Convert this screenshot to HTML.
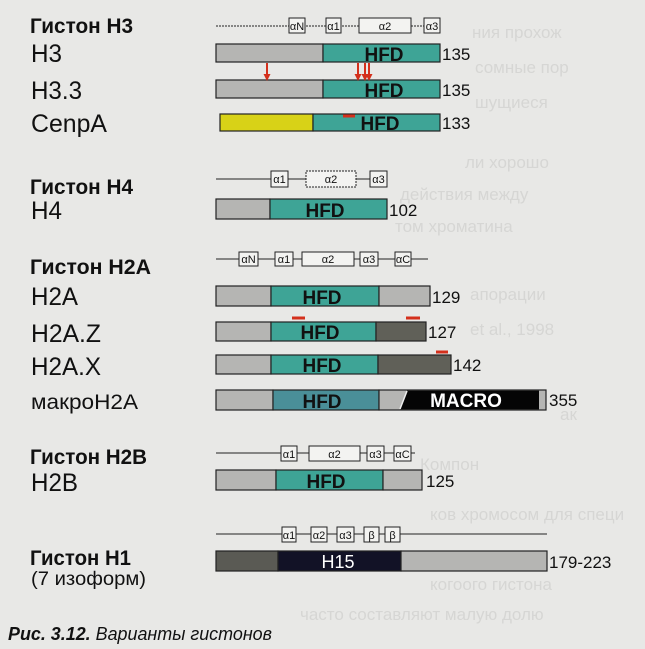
<!DOCTYPE html>
<html><head><meta charset="utf-8"><style>
html,body{margin:0;padding:0;background:#e8e8e6;}
svg{display:block}
text{font-family:"Liberation Sans","DejaVu Sans",sans-serif;}
</style></head><body>
<svg width="645" height="649" viewBox="0 0 645 649" xmlns="http://www.w3.org/2000/svg">
<rect width="645" height="649" fill="#e8e8e6"/>
<g fill="#d6d6d4" font-size="17" font-family="Liberation Serif,serif">
<text x="472" y="38">ния прохож</text><text x="475" y="73">сомные пор</text><text x="475" y="108">шущиеся</text>
<text x="465" y="168">ли хорошо</text><text x="400" y="200">действия между</text><text x="395" y="232">том хроматина</text>
<text x="470" y="300">апорации</text><text x="470" y="335">et al., 1998</text><text x="560" y="420">ак</text><text x="420" y="470">Компон</text>
<text x="430" y="520">ков хромосом для специ</text><text x="430" y="590">когоого гистона</text><text x="300" y="620">часто составляют малую долю</text>
</g>
<g fill="#111" stroke="#222" stroke-width="1">
<line x1="216" y1="26" x2="440" y2="26" stroke-dasharray="2,1"/>
<rect x="289" y="18" width="16" height="15" fill="#f3f3f1"/><rect x="326" y="18" width="15" height="15" fill="#f3f3f1"/>
<rect x="359" y="18" width="52" height="15" fill="#f3f3f1"/><rect x="424" y="18" width="16" height="15" fill="#f3f3f1"/>
<line x1="216" y1="179" x2="387" y2="179"/>
<rect x="271" y="171" width="17" height="16" fill="#f3f3f1"/><rect x="306" y="171" width="50" height="16" fill="#f3f3f1" stroke-dasharray="2,1"/>
<rect x="370" y="171" width="17" height="16" fill="#f3f3f1"/>
<line x1="216" y1="259" x2="428" y2="259"/>
<rect x="239" y="252" width="19" height="14" fill="#f3f3f1"/><rect x="275" y="252" width="18" height="14" fill="#f3f3f1"/>
<rect x="302" y="252" width="52" height="14" fill="#f3f3f1"/><rect x="360" y="252" width="18" height="14" fill="#f3f3f1"/>
<rect x="395" y="252" width="16" height="14" fill="#f3f3f1"/>
<line x1="216" y1="453" x2="415" y2="453"/>
<rect x="281" y="446" width="16" height="15" fill="#f3f3f1"/><rect x="309" y="446" width="51" height="15" fill="#f3f3f1"/>
<rect x="367" y="446" width="17" height="15" fill="#f3f3f1"/><rect x="394" y="446" width="17" height="15" fill="#f3f3f1"/>
<line x1="216" y1="534" x2="547" y2="534"/>
<rect x="282" y="527" width="14" height="15" fill="#f3f3f1"/><rect x="311" y="527" width="16" height="15" fill="#f3f3f1"/>
<rect x="337" y="527" width="17" height="15" fill="#f3f3f1"/><rect x="364" y="527" width="15" height="15" fill="#f3f3f1"/>
<rect x="385" y="527" width="15" height="15" fill="#f3f3f1"/>
</g>
<g font-size="11" fill="#111" text-anchor="middle">
<text x="297" y="30">αN</text><text x="333.5" y="30">α1</text><text x="385" y="30">α2</text><text x="432" y="30">α3</text>
<text x="279.5" y="183">α1</text><text x="331" y="183">α2</text><text x="378.5" y="183">α3</text>
<text x="248.5" y="263">αN</text><text x="284" y="263">α1</text><text x="328" y="263">α2</text><text x="369" y="263">α3</text><text x="403" y="263">αC</text>
<text x="289" y="458">α1</text><text x="334.5" y="458">α2</text><text x="375.5" y="458">α3</text><text x="402.5" y="458">αC</text>
<text x="289" y="539">α1</text><text x="319" y="539">α2</text><text x="345.5" y="539">α3</text><text x="371.5" y="539">β</text><text x="392.5" y="539">β</text>
</g>
<g stroke="#222" stroke-width="1.2">
<rect x="216" y="44" width="107" height="18" fill="#b5b5b3"/><rect x="323" y="44" width="117" height="18" fill="#3ea496"/>
<rect x="216" y="80" width="107" height="18" fill="#b5b5b3"/><rect x="323" y="80" width="117" height="18" fill="#3ea496"/>
<rect x="220" y="114" width="93" height="17" fill="#d8d217"/><rect x="313" y="114" width="127" height="17" fill="#3ea496"/>
<rect x="216" y="199" width="54" height="20" fill="#b5b5b3"/><rect x="270" y="199" width="117" height="20" fill="#3ea496"/>
<rect x="216" y="286" width="55" height="20" fill="#b5b5b3"/><rect x="271" y="286" width="108" height="20" fill="#3ea496"/><rect x="379" y="286" width="51" height="20" fill="#b5b5b3"/>
<rect x="216" y="322" width="55" height="19" fill="#b5b5b3"/><rect x="271" y="322" width="105" height="19" fill="#3ea496"/><rect x="376" y="322" width="50" height="19" fill="#606058"/>
<rect x="216" y="355" width="55" height="19" fill="#b5b5b3"/><rect x="271" y="355" width="107" height="19" fill="#3ea496"/><rect x="378" y="355" width="73" height="19" fill="#606058"/>
<rect x="216" y="390" width="57" height="20" fill="#b5b5b3"/><rect x="273" y="390" width="106" height="20" fill="#4a8f98"/><rect x="379" y="390" width="167" height="20" fill="#b5b5b3"/>
<rect x="216" y="470" width="60" height="20" fill="#b5b5b3"/><rect x="276" y="470" width="107" height="20" fill="#3ea496"/><rect x="383" y="470" width="39" height="20" fill="#b5b5b3"/>
<rect x="216" y="551" width="62" height="20" fill="#5a5a54"/><rect x="278" y="551" width="123" height="20" fill="#121226"/><rect x="401" y="551" width="146" height="20" fill="#b5b5b3"/>
</g>
<polygon points="407,390.6 539,390.6 539,409.4 400,409.4" fill="#050505"/>
<line x1="407" y1="391" x2="400" y2="409" stroke="#eee" stroke-width="1.5"/>
<g stroke="#d4301c" stroke-width="2" fill="#d4301c">
<line x1="267" y1="63" x2="267" y2="78"/><polygon points="263.5,74 270.5,74 267,81" stroke="none"/>
<line x1="358" y1="63" x2="358" y2="78"/><polygon points="354.5,74 361.5,74 358,81" stroke="none"/>
<line x1="365" y1="63" x2="365" y2="78"/><polygon points="361.5,74 368.5,74 365,81" stroke="none"/>
<line x1="369" y1="63" x2="369" y2="78"/><polygon points="365.5,74 372.5,74 369,81" stroke="none"/>
<line x1="343" y1="116" x2="355" y2="116" stroke-width="3"/>
<line x1="292" y1="318" x2="305" y2="318" stroke-width="3"/>
<line x1="406" y1="318" x2="420" y2="318" stroke-width="3"/>
<line x1="436" y1="352" x2="448" y2="352" stroke-width="3"/>
</g>
<g font-weight="bold" font-size="19" text-anchor="middle" fill="#111">
<text x="384" y="61">HFD</text><text x="384" y="97">HFD</text><text x="380" y="130">HFD</text>
<text x="325" y="217">HFD</text><text x="322" y="304">HFD</text><text x="320" y="339">HFD</text><text x="322" y="372">HFD</text>
<text x="322" y="408">HFD</text><text x="326" y="488">HFD</text>
</g>
<text x="466" y="407" font-size="19" font-weight="bold" fill="#fff" text-anchor="middle">MACRO</text>
<text x="338" y="568" font-size="18" fill="#fff" text-anchor="middle">H15</text>
<g font-size="17" fill="#111">
<text x="442" y="60">135</text><text x="442" y="96">135</text><text x="442" y="129">133</text>
<text x="389" y="216">102</text><text x="432" y="303">129</text><text x="428" y="338">127</text><text x="453" y="371">142</text>
<text x="549" y="406">355</text><text x="426" y="487">125</text><text x="549" y="568">179-223</text>
</g>
<g font-weight="bold" font-size="21" fill="#111">
<text x="30" y="33" textLength="103" lengthAdjust="spacingAndGlyphs">Гистон H3</text>
<text x="30" y="194" textLength="103" lengthAdjust="spacingAndGlyphs">Гистон H4</text>
<text x="30" y="274" textLength="121" lengthAdjust="spacingAndGlyphs">Гистон H2A</text>
<text x="30" y="464" textLength="117" lengthAdjust="spacingAndGlyphs">Гистон H2B</text>
<text x="30" y="565" textLength="101" lengthAdjust="spacingAndGlyphs">Гистон H1</text>
</g>
<g font-size="25" fill="#111">
<text x="31" y="62" textLength="31" lengthAdjust="spacingAndGlyphs">H3</text>
<text x="31" y="99" textLength="51" lengthAdjust="spacingAndGlyphs">H3.3</text>
<text x="31" y="132" textLength="76" lengthAdjust="spacingAndGlyphs">CenpA</text>
<text x="31" y="219" textLength="31" lengthAdjust="spacingAndGlyphs">H4</text>
<text x="31" y="305" textLength="47" lengthAdjust="spacingAndGlyphs">H2A</text>
<text x="31" y="342" textLength="70" lengthAdjust="spacingAndGlyphs">H2A.Z</text>
<text x="31" y="375" textLength="70" lengthAdjust="spacingAndGlyphs">H2A.X</text>
<text x="31" y="491" textLength="47" lengthAdjust="spacingAndGlyphs">H2B</text>
</g>
<text x="31" y="409" font-size="21" fill="#111" textLength="107" lengthAdjust="spacingAndGlyphs">макроH2A</text>
<text x="31" y="585" font-size="19" fill="#111" textLength="115" lengthAdjust="spacingAndGlyphs">(7 изоформ)</text>
<text x="8" y="640" font-family="Liberation Serif,serif" font-style="italic" font-size="18" fill="#111" textLength="264" lengthAdjust="spacingAndGlyphs"><tspan font-weight="bold">Рис. 3.12.</tspan> Варианты гистонов</text>
</svg>
</body></html>
